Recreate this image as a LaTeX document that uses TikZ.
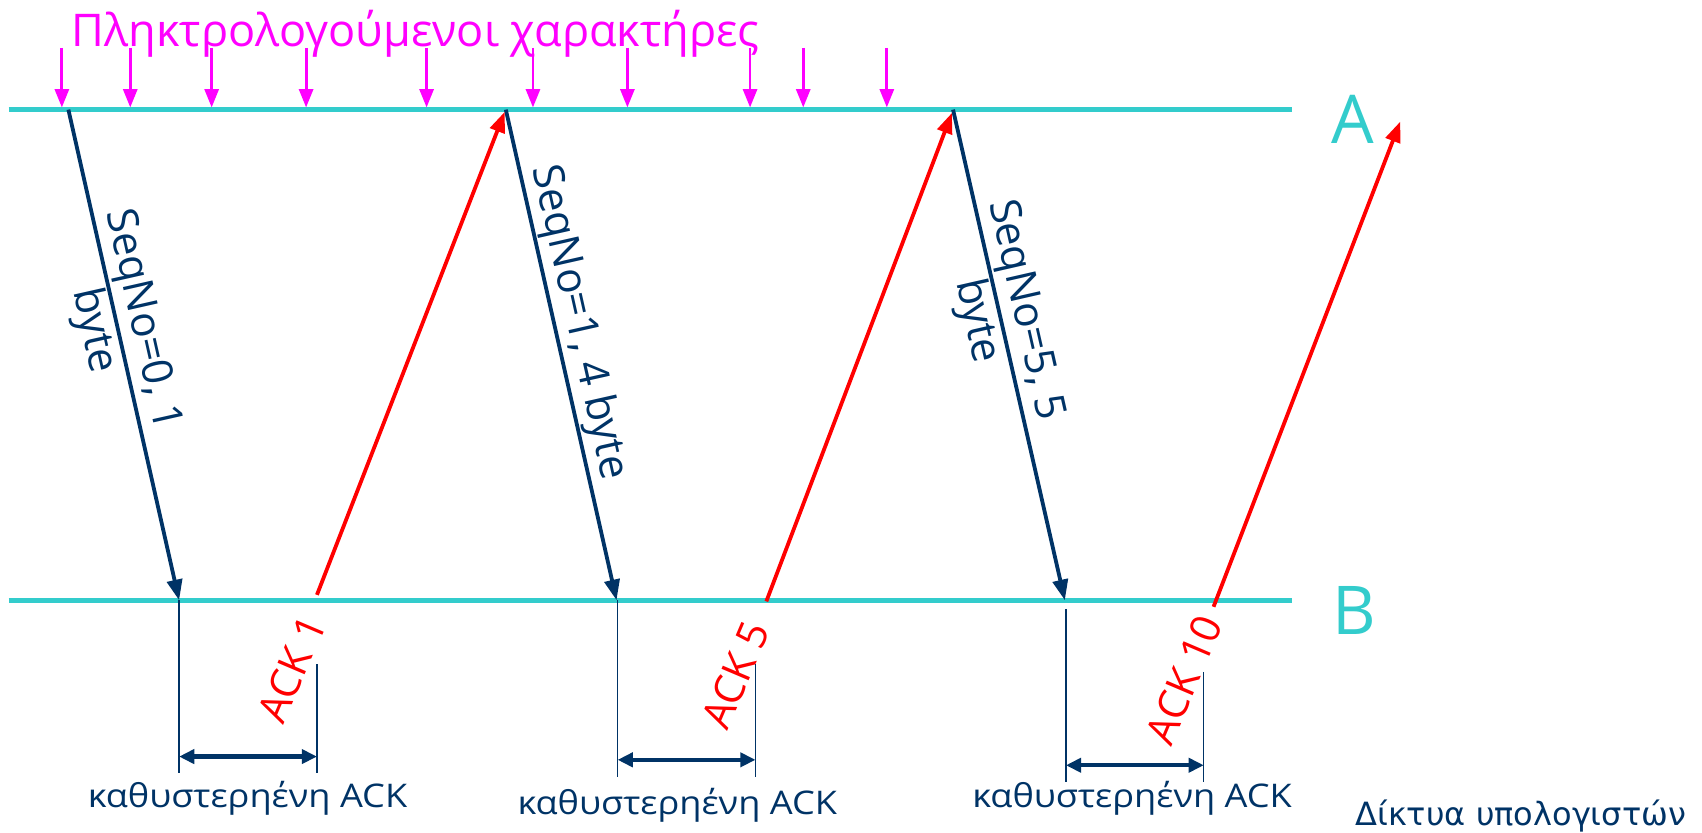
\documentclass[tikz,border=0pt]{standalone}
\usepackage{fontspec}
\setmainfont{Open Sans}
\newfontfamily\tahoma{DejaVu Sans}
\usetikzlibrary{arrows.meta}
\definecolor{linecyan}{HTML}{33CCCC}
\definecolor{navy}{HTML}{003366}
\definecolor{keymag}{HTML}{FF00FF}
\definecolor{ackred}{HTML}{FF0000}
\newcommand{\widen}[1]{\scalebox{1.11}[1]{#1}}
\begin{document}
\begin{tikzpicture}[x=1pt,y=-1pt,
  timeline/.style={linecyan, line width=5pt},
  keyarrow/.style={keymag, line width=2.6pt, -{Triangle[length=17pt,width=13pt]}},
  dataarrow/.style={navy, line width=3.5pt, -{Triangle[length=19pt,width=14pt]}},
  ackarrow/.style={ackred, line width=3.5pt, -{Triangle[length=19pt,width=14pt]}},
  tickline/.style={navy, line width=1.2pt},
  delayarrow/.style={navy, line width=4pt, {Triangle[length=14pt,width=13pt]}-{Triangle[length=14pt,width=13pt]}},
  hostlabel/.style={text=linecyan, font=\fontsize{62}{70}\selectfont, inner sep=0pt},
  titletext/.style={text=keymag, font=\fontsize{41.5}{48}\selectfont, inner sep=0pt},
  seqlabel/.style={text=navy, font=\fontsize{39}{46}\selectfont, inner sep=1pt, align=center},
  acklabel/.style={text=ackred, font=\fontsize{38}{44}\selectfont, inner sep=0pt, rotate=67},
  delaylabel/.style={text=navy, font=\fontsize{30}{34}\selectfont, inner sep=0pt},
  footlabel/.style={text=navy, font=\tahoma\fontsize{29.5}{34}\selectfont, inner sep=0pt}
]
\useasboundingbox (0,0) rectangle (1568,767);

% timelines
\coordinate (A0) at (8,101);   \coordinate (A1) at (1190,101);
\coordinate (B0) at (8,553);   \coordinate (B1) at (1190,553);
\draw[timeline] (A0) -- (A1);
\draw[timeline] (B0) -- (B1);
\node[hostlabel] (labA) at (1246,110) {A};
\node[hostlabel] (labB) at (1248,562) {B};

% title
\node[titletext, anchor=base] (title) at (383,43) {Πληκτρολογούμενοι χαρακτήρες};

% keystrokes
\foreach \i/\x in {1/57,2/120,3/195,4/282,5/393,6/491,7/578,8/691,9/740,10/817}{
  \coordinate (ks\i) at (\x,44);
  \coordinate (ke\i) at (\x,99);
  \draw[keyarrow] (ks\i) -- (ke\i);
}

% data segments A -> B
\coordinate (d1s) at (63,101);  \coordinate (d1e) at (165,553);
\coordinate (d2s) at (466,101); \coordinate (d2e) at (568,553);
\coordinate (d3s) at (878,101); \coordinate (d3e) at (981,553);
\draw[dataarrow] (d1s) -- node[seqlabel, sloped, pos=0.44] (seq1) {SeqNo=0, 1\\byte} (d1e);
\draw[dataarrow] (d2s) -- node[seqlabel, sloped, pos=0.445, above=0pt] (seq2) {SeqNo=1, 4 byte} (d2e);
\draw[dataarrow] (d3s) -- node[seqlabel, sloped, pos=0.42] (seq3) {SeqNo=5, 5\\byte} (d3e);

% acks B -> A
\coordinate (a1s) at (292,548);  \coordinate (a1e) at (465,103);
\coordinate (a2s) at (706,554);  \coordinate (a2e) at (877,104);
\coordinate (a3s) at (1118,559); \coordinate (a3e) at (1290,112);
\draw[ackarrow] (a1s) -- (a1e);
\draw[ackarrow] (a2s) -- (a2e);
\draw[ackarrow] (a3s) -- (a3e);
\node[acklabel] (ack1) at (269,616) {ACK 1};
\node[acklabel] (ack5) at (678,622) {ACK 5};
\node[acklabel] (ack10) at (1091,626) {ACK 10};

% delayed ack marks
\coordinate (t1a) at (165,553); \coordinate (t1ab) at (165,712);
\coordinate (t1b) at (292,612); \coordinate (t1bb) at (292,712);
\coordinate (t2a) at (569,553); \coordinate (t2ab) at (569,716);
\coordinate (t2b) at (696,612); \coordinate (t2bb) at (696,716);
\coordinate (t3a) at (982,561); \coordinate (t3ab) at (982,720);
\coordinate (t3b) at (1109,619); \coordinate (t3bb) at (1109,720);
\draw[tickline] (t1a) -- (t1ab);
\draw[tickline] (t1b) -- (t1bb);
\draw[tickline] (t2a) -- (t2ab);
\draw[tickline] (t2b) -- (t2bb);
\draw[tickline] (t3a) -- (t3ab);
\draw[tickline] (t3b) -- (t3bb);
\coordinate (w1l) at (165,697); \coordinate (w1r) at (292,697);
\coordinate (w2l) at (569,700); \coordinate (w2r) at (696,700);
\coordinate (w3l) at (982,705); \coordinate (w3r) at (1109,705);
\draw[delayarrow] (w1l) -- (w1r);
\draw[delayarrow] (w2l) -- (w2r);
\draw[delayarrow] (w3l) -- (w3r);
\node[delaylabel] (dl1) at (228,735) {\widen{καθυστερηένη ACK}};
\node[delaylabel] (dl2) at (624,742) {\widen{καθυστερηένη ACK}};
\node[delaylabel] (dl3) at (1043,735) {\widen{καθυστερηένη ACK}};

% footer
\node[footlabel] (foot) at (1401,752) {Δίκτυα υπολογιστών};
\end{tikzpicture}
\end{document}
